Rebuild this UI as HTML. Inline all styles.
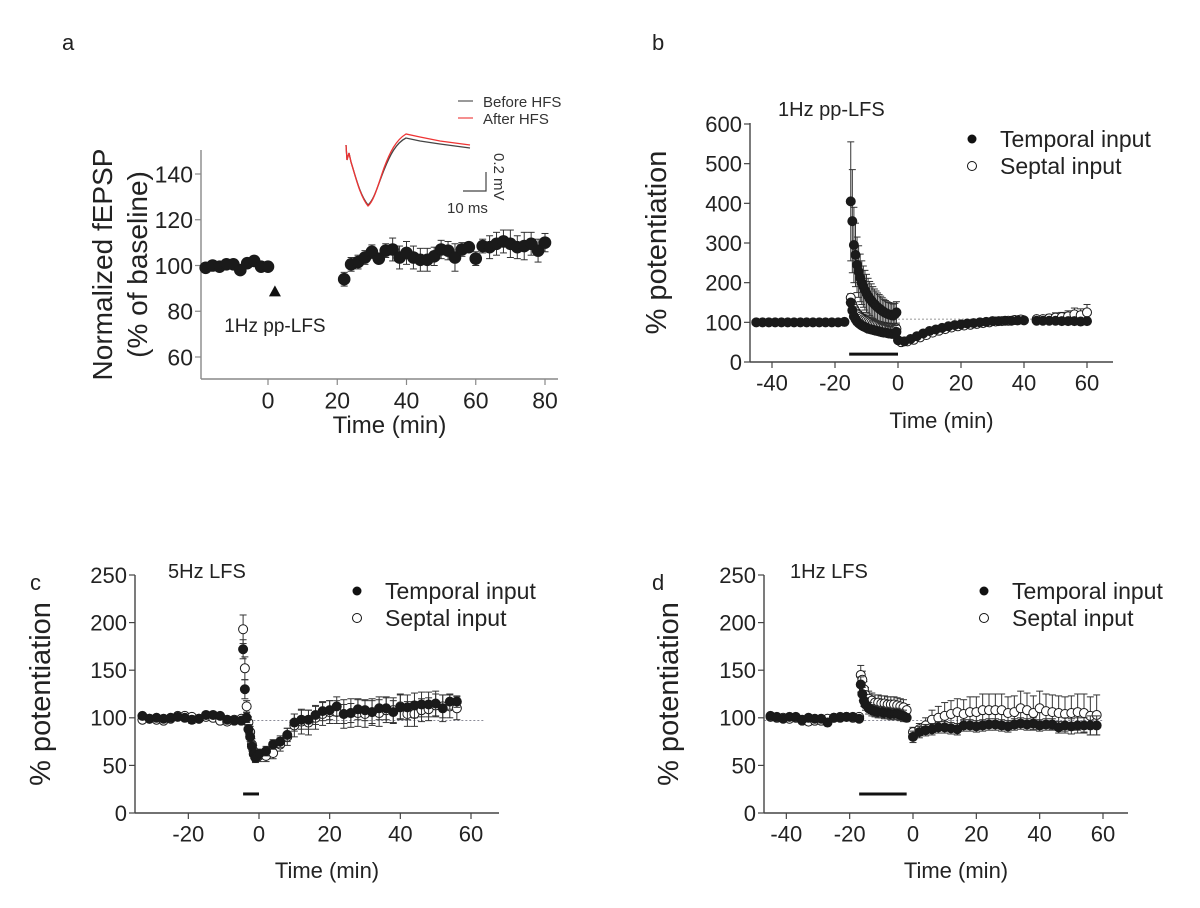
<!DOCTYPE html>
<html><head><meta charset="utf-8"><style>
html,body{margin:0;padding:0;background:#fff;}
svg{display:block;font-family:"Liberation Sans",Arial,sans-serif;}
</style></head><body>
<svg id="fig" width="1200" height="908" viewBox="0 0 1200 908" xmlns="http://www.w3.org/2000/svg">
<text x="62" y="50" font-size="22" fill="#222">a</text>
<text x="652" y="50" font-size="22" fill="#222">b</text>
<text x="30" y="590" font-size="22" fill="#222">c</text>
<text x="652" y="590" font-size="22" fill="#222">d</text>
<g>
<line x1="458" y1="101" x2="473" y2="101" stroke="#555" stroke-width="1.2"/>
<line x1="458" y1="118" x2="473" y2="118" stroke="#e44" stroke-width="1.2"/>
<text x="483" y="107" font-size="15" fill="#333">Before HFS</text>
<text x="483" y="124" font-size="15" fill="#333">After HFS</text>
<path d="M346,145 L347,160 L349,153 L351,162 C356,178 360,195 368,205 C374,200 378,185 384,170 C390,155 396,143 406,138 L420,141 L440,144 L470,148" fill="none" stroke="#444" stroke-width="1.3"/>
<path d="M346,145 L347,160 L349,153 L351,162 C356,178 360,196 368,206 C374,201 378,185 384,168 C390,152 396,140 406,134 L420,137 L440,141 L470,145" fill="none" stroke="#e33" stroke-width="1.3"/>
<polyline points="486,172 486,191 463,191" fill="none" stroke="#444" stroke-width="1.2"/>
<text x="447" y="213" font-size="15" fill="#333">10 ms</text>
<text x="0" y="0" font-size="15" fill="#333" transform="translate(494,153) rotate(90)">0.2 mV</text>
</g>
</svg>
<script>
// ---------- Panel a data ----------
var aTime1 = [-18,-16,-14,-12,-10,-8,-6,-4,-2,0];
var aVal1 = [99,100,99.5,100.5,100.5,98,101,102,99.5,99.5];
var aErr1 = [1,1,1,1,1,1,1,1,1,1];
var aTime2 = [22,24,26,28,30,32,34,36,38,40,42,44,46,48,50,52,54,56,58,60,62,64,66,68,70,72,74,76,78,80];
var aVal2 = [94,100.5,101.5,103.5,106,103,106.5,107,103.5,105.5,103.5,102.5,102.5,104,107,106.5,103.5,107,108,103,108.5,108,109.5,110.5,109.5,108,108.5,109.5,106.5,110];
var aErr2 = [3,3,3,3,3,2,3,5,5,5,5,5,5,4,4,4,6,3,2,3,3,5,5,5,6,5,6,5,5,4];
var aXTicks = [0,20,40,60,80];
var aYTicks = [60,80,100,120,140];

// ---------- Panel b data ----------
var bTempTime = [-45,-43,-41,-39,-37,-35,-33,-31,-29,-27,-25,-23,-21,-19,-17,
 -15,-14.5,-14,-13.5,-13,-12.5,-12,-11.5,-11,-10.5,-10,-9.5,-9,-8.5,-8,-7.5,-7,-6.5,-6,-5.5,-5,-4.5,-4,-3.5,-3,-2.5,-2,-1.5,-1,-0.5,0,
 2,4,6,8,10,12,14,16,18,20,22,24,26,28,30,32,34,36,38,40,44,46,48,50,52,54,56,58,60];
var bTempVal = [100,100,100,100,100,100,100,100,100,100,100,100,100,100,101,
 405,355,295,270,245,228,212,200,190,181,173,166,160,155,150,146,142,138,135,132,129,126,124,122,120,119,118,117,120,125,55,
 52,58,65,72,78,82,86,90,93,95,97,98,100,101,103,103,104,104,105,105,104,104,104,104,103,103,103,102,103];
var bTempErr = [3,3,3,3,3,3,3,3,3,3,3,3,3,3,3,
 150,130,95,80,70,65,60,55,52,50,48,45,43,42,40,38,37,36,35,34,33,32,31,30,30,30,30,29,28,27,4,
 3,3,3,3,3,3,3,3,3,3,3,3,3,3,3,3,4,5,6,6,4,4,4,4,4,4,4,4,4];
var bTemp2Time = [-15,-14.5,-14,-13.5,-13,-12.5,-12,-11.5,-11,-10.5,-10,-9.5,-9,-8.5,-8,-7.5,-7,-6.5,-6,-5.5,-5,-4.5,-4,-3.5,-3,-2.5,-2,-1.5,-1,-0.5];
var bTemp2Val = [150,130,115,108,102,98,95,92,90,88,86,84,83,82,81,80,79,78,77,76,75,74,74,73,72,72,71,71,72,76];
var bSeptTime = [-15,-14.5,-14,-13.5,-13,-12.5,-12,-11.5,-11,-10.5,-10,-9.5,-9,-8.5,-8,-7.5,-7,-6.5,-6,-5.5,-5,-4.5,-4,-3.5,-3,-2.5,-2,-1.5,-1,-0.5,
 1,3,5,7,9,11,13,15,17,19,21,23,25,27,29,31,33,35,37,39,44,46,48,50,52,54,56,58,60];
var bSeptVal = [162,145,135,128,122,118,114,111,108,106,104,102,100,98,96,95,94,93,92,91,90,89,88,88,87,87,86,86,85,84,
 50,52,56,62,68,74,79,83,87,90,92,94,96,98,100,102,103,104,106,107,108,108,110,112,113,115,120,118,125,127];
var bSeptErr = [10,10,10,10,10,10,10,10,10,10,10,10,10,10,10,10,10,10,10,10,10,10,10,10,10,10,10,10,10,10,
 3,3,3,3,3,3,3,3,3,3,3,3,3,3,3,3,4,5,8,10,8,8,10,12,12,14,16,16,20,22];
var bXTicks = [-40,-20,0,20,40,60];
var bYTicks = [0,100,200,300,400,500,600];

// ---------- Panel c data ----------
var cTempTime = [-33,-31,-29,-27,-25,-23,-21,-19,-17,-15,-13,-11,-9,-7,-5,-4.5,-4,-3.5,-3,-2.5,-2,-1.5,-1,-0.5,0,2,4,6,8,10,12,14,16,18,20,22,24,26,28,30,32,34,36,38,40,42,44,46,48,50,52,54,56];
var cTempVal = [102,99,100,99,100,101,100,98,99,103,103,102,98,97,97,172,130,100,88,80,70,62,58,60,62,65,72,75,82,95,98,98,103,107,108,112,104,105,109,108,106,110,110,106,111,111,113,114,114,115,110,117,117];
var cTempErr = [2,2,2,2,2,2,2,4,3,2,2,2,2,2,2,10,10,5,5,5,5,5,5,5,5,5,5,6,7,9,10,10,10,10,10,10,10,10,11,11,12,12,12,12,13,13,13,13,13,13,14,8,6];
var cSeptTime = [-33,-31,-29,-27,-25,-23,-21,-19,-17,-15,-13,-11,-9,-7,-5,-4.5,-4,-3.5,-3,-2.5,-2,-1.5,-1,-0.5,0,2,4,6,8,10,12,14,16,18,20,22,24,26,28,30,32,34,36,38,40,42,44,46,48,50,52,54,56];
var cSeptVal = [98,99,98,97,99,102,102,101,99,101,100,97,96,98,99,193,152,112,95,85,72,65,60,61,60,60,63,72,80,92,96,95,100,104,106,106,104,105,105,104,106,105,108,108,112,104,104,108,109,113,112,112,110];
var cSeptErr = [2,2,2,2,2,2,2,2,2,2,2,2,2,2,3,15,12,6,6,6,6,6,6,6,6,6,6,7,9,12,13,13,12,12,12,12,15,15,14,14,14,14,13,13,13,13,13,12,12,12,12,12,12];
var cXTicks = [-20,0,20,40,60];
var cYTicks = [0,50,100,150,200,250];

// ---------- Panel d data ----------
var dTempTime = [-45,-43,-41,-39,-37,-35,-33,-31,-29,-27,-25,-23,-21,-19,-17,-16.5,-16,-15.5,-15,-14,-13,-12,-11,-10,-9,-8,-7,-6,-5,-4,-3,-2,0,2,4,6,8,10,12,14,16,18,20,22,24,26,28,30,32,34,36,38,40,42,44,46,48,50,52,54,56,58];
var dTempVal = [102,101,99,101,101,98,100,99,99,95,100,100,101,101,99,135,125,118,114,110,108,107,106,106,105,105,104,104,104,103,102,100,80,85,87,88,90,90,89,88,92,92,91,92,93,93,92,91,93,94,93,94,92,93,93,90,92,91,92,92,92,92];
var dTempErr = [2,2,2,2,2,2,2,2,2,3,2,2,2,2,2,8,7,6,6,6,6,6,6,6,6,6,6,6,6,6,6,4,6,6,6,6,6,6,6,6,6,6,6,6,6,6,6,6,6,6,6,6,6,6,6,6,8,8,8,8,10,10];
var dSeptTime = [-45,-43,-41,-39,-37,-35,-33,-31,-29,-27,-25,-23,-21,-19,-17,-16.5,-16,-15.5,-15,-14,-13,-12,-11,-10,-9,-8,-7,-6,-5,-4,-3,-2,0,2,4,6,8,10,12,14,16,18,20,22,24,26,28,30,32,34,36,38,40,42,44,46,48,50,52,54,56,58];
var dSeptVal = [101,100,100,99,100,97,96,97,97,99,100,101,101,100,101,145,140,130,124,120,118,116,116,115,115,114,114,114,113,112,111,108,85,88,92,98,100,102,104,106,104,106,106,108,108,108,108,105,106,110,108,105,110,107,106,105,104,105,106,105,102,103];
var dSeptErr = [2,2,2,2,2,2,2,2,2,2,2,2,2,2,2,10,9,8,8,8,8,8,8,8,8,8,8,8,8,8,8,6,5,6,8,10,12,14,14,14,15,16,16,17,17,17,17,17,17,18,18,18,18,18,18,18,18,18,19,20,20,21];
var dXTicks = [-40,-20,0,20,40,60];
var dYTicks = [0,50,100,150,200,250];

var NS = "http://www.w3.org/2000/svg";
var svg = document.getElementById('fig');
function mk(tag, attrs, parent) {
  var e = document.createElementNS(NS, tag);
  for (var k in attrs) e.setAttribute(k, attrs[k]);
  (parent || svg).appendChild(e);
  return e;
}
function scale(d0, d1, r0, r1) { return function (v) { return r0 + (v - d0) * (r1 - r0) / (d1 - d0); }; }

function axes(g, P, xt, yt, ylab, tickFs, labFs, yLabX, xLabY, axisColor, yLabFs) {
  var ax = mk('line', {x1: P.left, y1: P.top, x2: P.left, y2: P.bottom, stroke: axisColor, 'stroke-width': 1.4}, g);
  
  
  var bx = mk('line', {x1: P.left, y1: P.bottom, x2: P.right, y2: P.bottom, stroke: axisColor, 'stroke-width': 1.4}, g);
  
  
  xt.forEach(function (t) {
    var x = P.sx(t);
    mk('line', {x1: x, y1: P.bottom, x2: x, y2: P.bottom + 6, stroke: axisColor, 'stroke-width': 1.2}, g);
    var tx = mk('text', {x: x, y: P.bottom + 10 + tickFs * 0.85, 'font-size': tickFs, 'text-anchor': 'middle', fill: '#222'}, g);
    tx.textContent = t;
    
    
  });
  yt.forEach(function (v) {
    var y = P.sy(v);
    mk('line', {x1: P.left - 6, y1: y, x2: P.left, y2: y, stroke: axisColor, 'stroke-width': 1.2}, g);
    var tx = mk('text', {x: P.left - 8, y: y + tickFs * 0.36, 'font-size': tickFs, 'text-anchor': 'end', fill: '#222'}, g);
    tx.textContent = v;
    
    
  });
  var xl = mk('text', {x: (P.left + P.right) / 2 + 10, y: xLabY, 'font-size': labFs, 'text-anchor': 'middle', fill: '#222'}, g);
  xl.textContent = 'Time (min)';
  
  
  ylab.forEach(function (s, i) {
    var yl = mk('text', {x: 0, y: 0, 'font-size': yLabFs, 'text-anchor': 'middle', fill: '#222',
      transform: 'translate(' + (yLabX + i * 35) + ',' + ((P.top + P.bottom) / 2) + ') rotate(-90)'}, g);
    yl.textContent = s;
    
    
  });
}

function series(g, P, T, V, E, r, filled, name) {
  var sg = mk('g', {}, g);
  
  
  for (var i = 0; i < T.length; i++) {
    var x = P.sx(T[i]), y = P.sy(V[i]);
    if (E && E[i]) {
      var yt = P.sy(V[i] + E[i]), yb = P.sy(V[i] - E[i]);
      mk('line', {x1: x, y1: yt, x2: x, y2: yb, stroke: '#333', 'stroke-width': 1}, sg);
      mk('line', {x1: x - 3.5, y1: yt, x2: x + 3.5, y2: yt, stroke: '#333', 'stroke-width': 1}, sg);
      mk('line', {x1: x - 3.5, y1: yb, x2: x + 3.5, y2: yb, stroke: '#333', 'stroke-width': 1}, sg);
    }
  }
  for (var j = 0; j < T.length; j++) {
    var c = mk('circle', {cx: P.sx(T[j]), cy: P.sy(V[j]), r: r, fill: filled ? '#1a1a1a' : '#fff', stroke: '#1a1a1a', 'stroke-width': 1}, sg);
    
    
  }
}

function legend(g, x, y) {
  mk('circle', {cx: x, cy: y, r: 4.5, fill: '#111'}, g);
  mk('circle', {cx: x, cy: y + 27, r: 4.5, fill: '#fff', stroke: '#111'}, g);
  var t1 = mk('text', {x: x + 28, y: y + 8, 'font-size': 23, fill: '#222'}, g);
  t1.textContent = 'Temporal input';
  
  
  var t2 = mk('text', {x: x + 28, y: y + 35, 'font-size': 23, fill: '#222'}, g);
  t2.textContent = 'Septal input';
  
  
}
function title(g, x, y, s) {
  var t = mk('text', {x: x, y: y, 'font-size': 20, fill: '#222'}, g);
  t.textContent = s;
  
  
}
function hline(g, P, v, x0, x1, dash, w, color) {
  var l = mk('line', {x1: P.sx(x0), y1: P.sy(v), x2: P.sx(x1), y2: P.sy(v), stroke: color, 'stroke-width': w}, g);
  if (dash) l.setAttribute('stroke-dasharray', dash);
  return l;
}

// Panel a
var gA = mk('g', {});


var PA = {left: 201, right: 558, top: 150, bottom: 379};
PA.sx = scale(0, 80, 268, 545); PA.sy = scale(60, 140, 357, 174);
axes(gA, PA, aXTicks, aYTicks, ['Normalized fEPSP', '(% of baseline)'], 23, 24, 112, 433, '#888', 28);
series(gA, PA, aTime1, aVal1, aErr1, 5.8, true, 'series-baseline');
series(gA, PA, aTime2, aVal2, aErr2, 5.8, true, 'series-post');
mk('polygon', {points: (PA.sx(2) - 6) + ',' + (PA.sy(86.5)) + ' ' + (PA.sx(2) + 6) + ',' + PA.sy(86.5) + ' ' + PA.sx(2) + ',' + (PA.sy(86.5) - 11), fill: '#111'}, gA);
var lfs = mk('text', {x: PA.sx(2), y: 332, 'font-size': 19, 'text-anchor': 'middle', fill: '#222'}, gA);
lfs.textContent = '1Hz pp-LFS';



// Panel b
var gB = mk('g', {});


var PB = {left: 750, right: 1113, top: 123, bottom: 362};
PB.sx = scale(0, 60, 898, 1087); PB.sy = scale(0, 600, 362, 124);
axes(gB, PB, bXTicks, bYTicks, ['% potentiation'], 22, 22, 666, 428, '#444', 29);
hline(gB, PB, 108, 0, 60, '2,2', 0.8, '#777');
series(gB, PB, bSeptTime, bSeptVal, bSeptErr, 4.5, false, 'series-septal');
series(gB, PB, bTempTime, bTempVal, bTempErr, 4.5, true, 'series-temporal');
series(gB, PB, bTemp2Time, bTemp2Val, null, 4.5, true, 'series-temporal-second');
hline(gB, PB, 20, -15.5, 0, null, 3, '#111');
title(gB, 778, 116, '1Hz pp-LFS');
legend(gB, 972, 139);

// Panel c
var gC = mk('g', {});


var PC = {left: 135, right: 499, top: 575, bottom: 813};
PC.sx = scale(0, 60, 259, 471); PC.sy = scale(0, 250, 813, 575);
axes(gC, PC, cXTicks, cYTicks, ['% potentiation'], 22, 22, 50, 878, '#444', 29);
hline(gC, PC, 97, -5, 64, '2,2', 0.8, '#667');
series(gC, PC, cSeptTime, cSeptVal, cSeptErr, 4.5, false, 'series-septal');
series(gC, PC, cTempTime, cTempVal, cTempErr, 4.5, true, 'series-temporal');
hline(gC, PC, 20, -4.5, 0, null, 3, '#111');
title(gC, 168, 578, '5Hz LFS');
legend(gC, 357, 591);

// Panel d
var gD = mk('g', {});


var PD = {left: 764, right: 1128, top: 575, bottom: 813};
PD.sx = scale(0, 60, 913, 1103); PD.sy = scale(0, 250, 813, 575);
axes(gD, PD, dXTicks, dYTicks, ['% potentiation'], 22, 22, 678, 878, '#444', 29);
hline(gD, PD, 97, -47, 60, '2,2', 0.8, '#667');
series(gD, PD, dSeptTime, dSeptVal, dSeptErr, 4.5, false, 'series-septal');
series(gD, PD, dTempTime, dTempVal, dTempErr, 4.5, true, 'series-temporal');
hline(gD, PD, 20, -17, -2, null, 3, '#111');
title(gD, 790, 578, '1Hz LFS');
legend(gD, 984, 591);
</script>
</body></html>
